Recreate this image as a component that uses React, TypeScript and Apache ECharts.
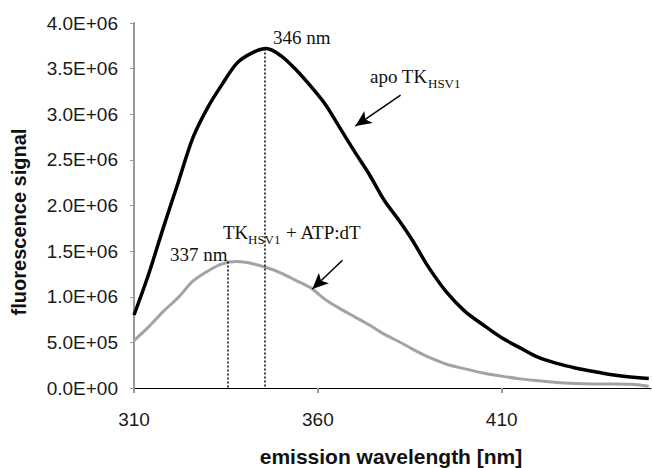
import { useEffect, useRef } from 'react';
import * as echarts from 'echarts';

const wavelengths = [310, 314, 318, 322, 326, 330, 334, 338, 342, 346, 350, 354, 358, 362, 366, 370, 374, 378, 382, 386, 390, 395, 400, 405, 410, 415, 420, 425, 430, 435, 440, 445, 450];
const apoSignal = [0.80e6, 1.25e6, 1.76e6, 2.25e6, 2.74e6, 3.07e6, 3.33e6, 3.56e6, 3.67e6, 3.72e6, 3.64e6, 3.49e6, 3.31e6, 3.11e6, 2.85e6, 2.59e6, 2.34e6, 2.06e6, 1.84e6, 1.60e6, 1.33e6, 1.05e6, 0.84e6, 0.69e6, 0.55e6, 0.44e6, 0.335e6, 0.27e6, 0.22e6, 0.18e6, 0.145e6, 0.12e6, 0.105e6];
const atpSignal = [0.52e6, 0.67e6, 0.84e6, 0.99e6, 1.17e6, 1.28e6, 1.36e6, 1.385e6, 1.365e6, 1.32e6, 1.26e6, 1.18e6, 1.10e6, 0.97e6, 0.87e6, 0.78e6, 0.69e6, 0.59e6, 0.51e6, 0.42e6, 0.34e6, 0.26e6, 0.21e6, 0.165e6, 0.13e6, 0.10e6, 0.08e6, 0.06e6, 0.05e6, 0.045e6, 0.044e6, 0.04e6, 0.02e6];
const xTickLabels = [310, 360, 410];
const peakApo = { nm: 345.5, value: 3.72e6, label: '346 nm' };
const peakAtp = { nm: 335.6, value: 1.385e6, label: '337 nm' };
const arrowApo = { from: [382.5, 3.21e6], to: [370.2, 2.87e6] };
const arrowAtp = { from: [366.7, 1.40e6], to: [358.5, 1.085e6] };

const sans = '"Liberation Sans", Arial, sans-serif';
const serif = '"Liberation Serif", "Times New Roman", serif';

function sci(v: number): string {
  const s = v.toExponential(1);
  const [m, e] = s.split('e');
  const sign = e[0];
  const digits = e.slice(1).padStart(2, '0');
  return m + 'E' + sign + digits;
}

export default function App() {
  const ref = useRef<HTMLDivElement>(null);
  useEffect(() => {
    const chart = echarts.init(ref.current!, null, { renderer: 'svg' });
    const apoData = wavelengths.map((w, i) => [w, apoSignal[i]]);
    const atpData = wavelengths.map((w, i) => [w, atpSignal[i]]);
    chart.setOption({
      animation: false,
      backgroundColor: '#fff',
      grid: { left: 134, right: 1, top: 23, bottom: 80, containLabel: false },
      xAxis: {
        type: 'value',
        min: 310,
        max: 450.6,
        interval: 50,
        splitLine: { show: false },
        axisLine: { show: true, onZero: false, lineStyle: { color: '#000', width: 1 } },
        axisTick: { show: true, customValues: xTickLabels, length: 5, lineStyle: { color: '#999', width: 2 } },
        axisLabel: {
          customValues: xTickLabels,
          margin: 22,
          fontSize: 19,
          fontFamily: sans,
          color: '#1a1a1a',
          formatter: (v: number) => String(v),
        },
      },
      yAxis: {
        type: 'value',
        min: 0,
        max: 4e6,
        interval: 5e5,
        splitLine: { show: false },
        axisLine: { show: true, lineStyle: { color: '#999', width: 2 } },
        axisTick: { show: true, length: 4, lineStyle: { color: '#999', width: 1 } },
        axisLabel: {
          margin: 16,
          fontSize: 19,
          fontFamily: sans,
          color: '#1a1a1a',
          formatter: (v: number) => sci(v),
        },
      },
      series: [
        {
          type: 'line',
          name: 'apo',
          data: apoData,
          symbol: 'none',
          smooth: 0.3,
          lineStyle: { color: '#000', width: 3.5 },
          z: 3,
          markLine: {
            silent: true,
            symbol: 'none',
            label: { show: false },
            lineStyle: { type: [2, 2], color: '#000', width: 1.5 },
            data: [
              [{ coord: [peakApo.nm, peakApo.value] }, { coord: [peakApo.nm, 0] }],
            ],
          },
        },
        {
          type: 'line',
          name: 'atp',
          data: atpData,
          symbol: 'none',
          smooth: 0.3,
          lineStyle: { color: '#a3a3a3', width: 3 },
          z: 2,
          markLine: {
            silent: true,
            symbol: 'none',
            label: { show: false },
            lineStyle: { type: [2, 2], color: '#000', width: 1.5 },
            data: [
              [{ coord: [peakAtp.nm, peakAtp.value] }, { coord: [peakAtp.nm, 0] }],
            ],
          },
        },
        {
          type: 'line',
          name: 'arrows',
          data: [],
          symbol: 'none',
          markLine: {
            silent: true,
            symbol: ['none', 'arrow'],
            symbolSize: [11, 16],
            label: { show: false },
            lineStyle: { type: 'solid', color: '#000', width: 1.5 },
            data: [
              [{ coord: arrowApo.from }, { coord: arrowApo.to }],
              [{ coord: arrowAtp.from }, { coord: arrowAtp.to }],
            ],
          },
        },
      ],
      graphic: [
        { type: 'text', x: 19, y: 222, rotation: Math.PI / 2, style: { text: 'fluorescence signal', font: `bold 20px ${sans}`, fill: '#111', align: 'center', verticalAlign: 'middle' } },
        { type: 'text', x: 391, y: 456, style: { text: 'emission wavelength [nm]', font: `bold 21px ${sans}`, fill: '#111', align: 'center', verticalAlign: 'middle' } },
        { type: 'text', x: 273, y: 37, style: { text: peakApo.label, font: `19px ${serif}`, fill: '#111', align: 'left', verticalAlign: 'middle' } },
        { type: 'text', x: 170, y: 254, style: { text: peakAtp.label, font: `19px ${serif}`, fill: '#111', align: 'left', verticalAlign: 'middle' } },
        { type: 'text', x: 370, y: 76, style: { text: 'apo TK', font: `19px ${serif}`, fill: '#111', align: 'left', verticalAlign: 'middle' } },
        { type: 'text', x: 428, y: 83, style: { text: 'HSV1', font: `13px ${serif}`, fill: '#111', align: 'left', verticalAlign: 'middle' } },
        { type: 'text', x: 223, y: 232, style: { text: 'TK', font: `19px ${serif}`, fill: '#111', align: 'left', verticalAlign: 'middle' } },
        { type: 'text', x: 248, y: 239, style: { text: 'HSV1', font: `13px ${serif}`, fill: '#111', align: 'left', verticalAlign: 'middle' } },
        { type: 'text', x: 286, y: 232, style: { text: '+ ATP:dT', font: `19px ${serif}`, fill: '#111', align: 'left', verticalAlign: 'middle' } },
      ],
    });
    return () => chart.dispose();
  }, []);
  return <div ref={ref} style={{ position: 'fixed', left: 0, top: 0, width: 652, height: 468 }} />;
}
